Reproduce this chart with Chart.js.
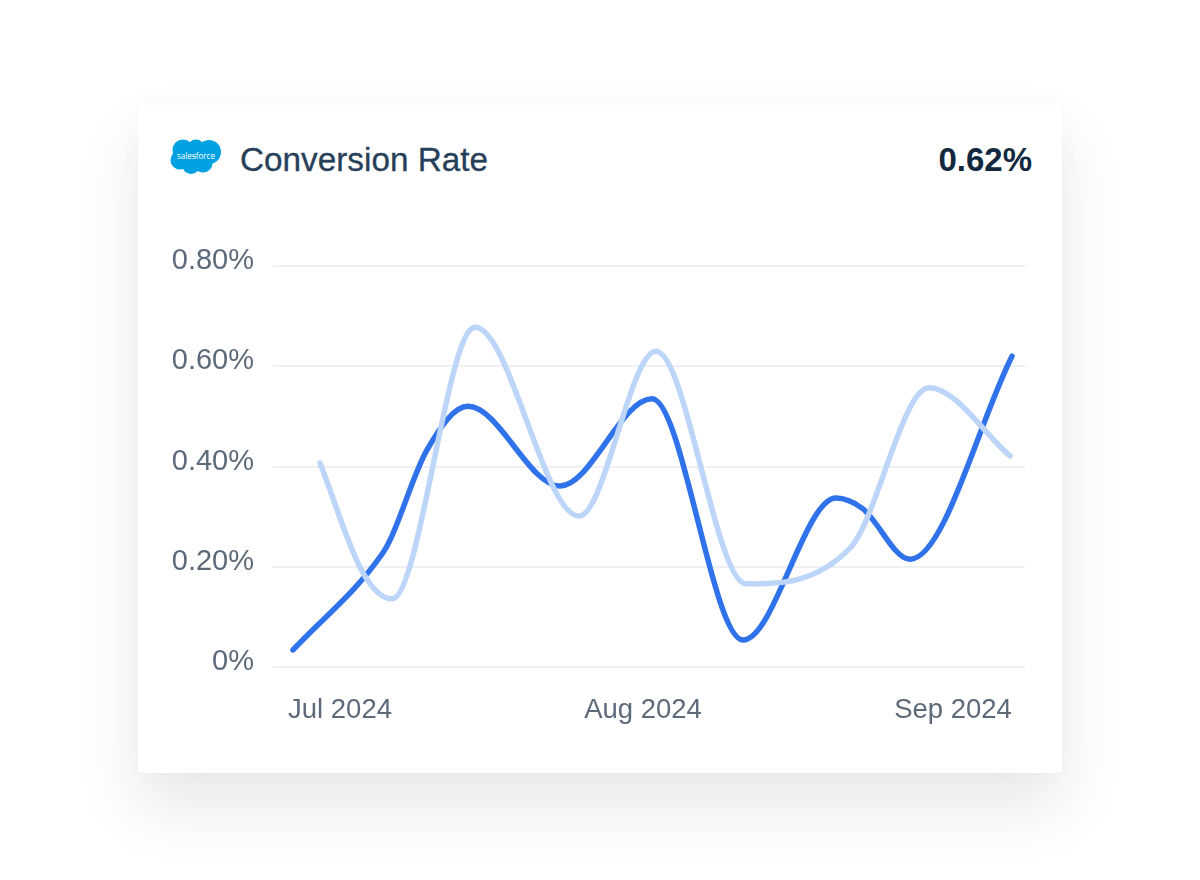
<!DOCTYPE html>
<html lang="en">
<head>
<meta charset="UTF-8">
<title>Conversion Rate</title>
<script src="https://cdn.jsdelivr.net/npm/chart.js@4"></script>
<style>
  html, body { margin: 0; padding: 0; background: #fff; }
  body { width: 1200px; height: 880px; position: relative; overflow: hidden; font-family: "Liberation Sans", Arial, sans-serif; }
  .card { position: absolute; left: 138px; top: 105px; width: 924px; height: 668px; background: #fff; border-radius: 3px;
    box-shadow: 0 34px 64px rgba(20, 25, 40, 0.10), 0 0 30px rgba(20, 25, 40, 0.02); }
  .logo { position: absolute; left: 32px; top: 33px; }
  .title { position: absolute; left: 102px; top: 36px; font-size: 33.3px; line-height: 38px; color: #27405a; -webkit-text-stroke: 0.3px #27405a; }
  .value { position: absolute; right: 30px; top: 36px; font-size: 33px; line-height: 38px; font-weight: bold; color: #12283f; }
  canvas { position: absolute; left: 0; top: 0; }
</style>
</head>
<body>
<div class="card">
  <svg class="logo" width="52" height="38" viewBox="0 0 52 38">
    <g fill="#00a1e0">
      <circle cx="13" cy="12" r="10.5"/>
      <circle cx="26" cy="10" r="8.5"/>
      <circle cx="39" cy="14" r="12"/>
      <circle cx="10" cy="22" r="9.5"/>
      <circle cx="21" cy="27" r="9"/>
      <circle cx="33" cy="25" r="9.5"/>
    </g>
    <text x="26" y="21" text-anchor="middle" font-family="Open Sans, sans-serif" font-size="9" textLength="38" lengthAdjust="spacingAndGlyphs" fill="#fff">salesforce</text>
  </svg>
  <div class="title">Conversion Rate</div>
  <div class="value">0.62%</div>
  <canvas id="chart" width="924" height="668"></canvas>
</div>
<script>
// 数据
const currentDays = [2.0, 11.0, 11.7, 15.4, 19.5, 28.7, 37.9, 47.0, 56.3, 58.9, 63.7, 73.9];
const currentRate = [0.034, 0.228, 0.253, 0.433, 0.52, 0.361, 0.535, 0.054, 0.337, 0.317, 0.215, 0.62];
const previousDays = [4.7, 9.0, 11.9, 20.2, 30.6, 38.3, 47.3, 57.7, 65.6, 73.7];
const previousRate = [0.407, 0.188, 0.136, 0.678, 0.301, 0.63, 0.166, 0.237, 0.557, 0.421];
const monthTicks = [6.7, 37.0, 68.0];
const monthLabels = ['Jul 2024', 'Aug 2024', 'Sep 2024'];
const rateLabels = ['0%', '0.20%', '0.40%', '0.60%', '0.80%'];

const toPoints = (xs, ys) => xs.map((x, i) => ({ x, y: ys[i] }));

new Chart(document.getElementById('chart'), {
  type: 'line',
  data: {
    datasets: [
      {
        label: 'Previous',
        data: toPoints(previousDays, previousRate),
        borderColor: '#bcd5f8',
        borderWidth: 5.5,
        borderCapStyle: 'round',
        pointRadius: 0,
        cubicInterpolationMode: 'monotone'
      },
      {
        label: 'Conversion Rate',
        data: toPoints(currentDays, currentRate),
        borderColor: '#2f72ea',
        borderWidth: 5.5,
        borderCapStyle: 'round',
        pointRadius: 0,
        cubicInterpolationMode: 'monotone'
      }
    ]
  },
  options: {
    responsive: false,
    animation: false,
    layout: { padding: { top: 161, right: 37 } },
    plugins: { legend: { display: false }, tooltip: { enabled: false } },
    scales: {
      x: {
        type: 'linear',
        min: 0,
        max: 75.2,
        border: { display: false },
        grid: { display: false, drawTicks: false },
        afterBuildTicks: axis => { axis.ticks = monthTicks.map(value => ({ value })); },
        afterFit: axis => { axis.height = 106; },
        ticks: {
          autoSkip: false,
          maxRotation: 0,
          padding: 27,
          color: '#5c6a7a',
          font: { family: '"Liberation Sans"', size: 27.5 },
          callback: (value, i) => monthLabels[i]
        }
      },
      y: {
        min: 0,
        max: 0.8,
        border: { display: false },
        grid: { color: '#eef0f4', lineWidth: 2, drawTicks: false },
        afterBuildTicks: axis => { axis.ticks = rateLabels.map((_, i) => ({ value: i * 0.2 })); },
        afterFit: axis => { axis.width = 135; },
        ticks: {
          padding: 19,
          labelOffset: -5,
          color: '#5c6a7a',
          font: { family: '"Liberation Sans"', size: 29 },
          callback: (value, i) => rateLabels[i]
        }
      }
    }
  }
});
</script>
</body>
</html>
